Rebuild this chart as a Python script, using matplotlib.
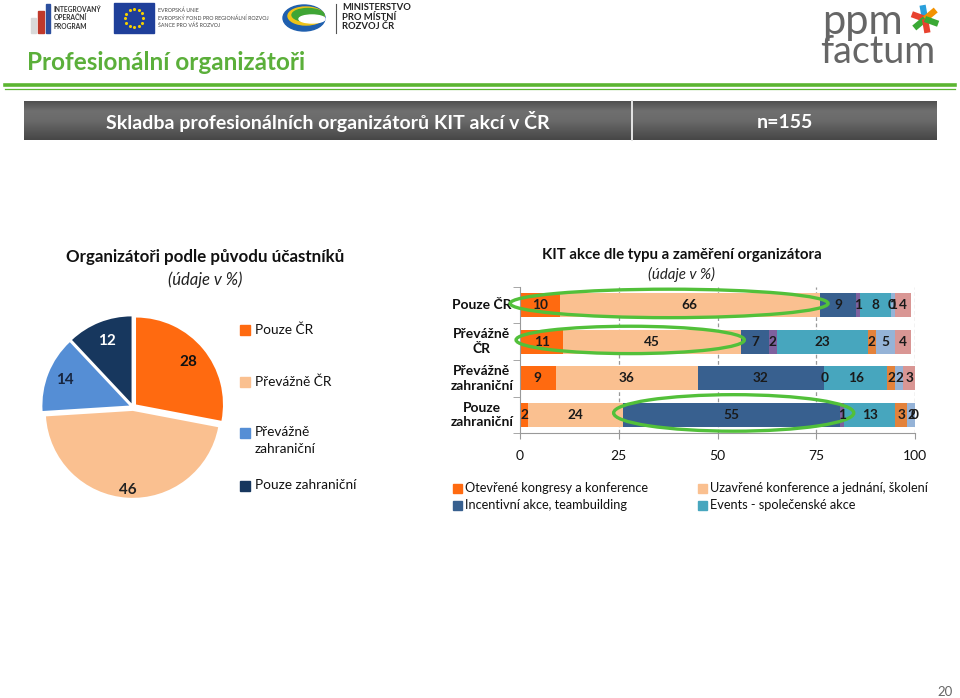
"""
Profesionální organizátoři - pie of organiser origin + stacked bars of KIT event types.
"""
import matplotlib
matplotlib.use('Agg')
import matplotlib.pyplot as plt
import matplotlib.transforms as mtransforms
import numpy as np
from matplotlib.patches import Rectangle, Ellipse
from matplotlib.colors import LinearSegmentedColormap

plt.rcParams['font.family'] = ['Lato', 'DejaVu Sans']

W, H = 960, 698

# --- data -------------------------------------------------------------
pie_labels = ['Pouze ČR', 'Převážně ČR', 'Převážně\nzahraniční', 'Pouze zahraniční']
pie_values = [28, 46, 14, 12]

bar_rows = ['Pouze ČR', 'Převážně\nČR', 'Převážně\nzahraniční', 'Pouze\nzahraniční']
event_types = ['Otevřené kongresy a konference',
               'Uzavřené konference a jednání, školení',
               'Incentivní akce, teambuilding',
               'Kategorie 4',
               'Events - společenské akce',
               'Kategorie 6',
               'Kategorie 7',
               'Kategorie 8']
# one list per row, values per event type (%)
row_pouze_cr = [10, 66, 9, 1, 8, 0, 1, 4]
row_prevazne_cr = [11, 45, 7, 2, 23, 2, 5, 4]
row_prevazne_zahr = [9, 36, 32, 0, 16, 2, 2, 3]
row_pouze_zahr = [2, 24, 55, 1, 13, 3, 2, 0]
x_ticks = [0, 25, 50, 75, 100]

pie_colors = ['#FF6A10', '#FAC090', '#558ED5', '#17375E']
bar_colors = ['#FF6A10', '#FAC090', '#38608F', '#7E619E',
              '#47A6BE', '#E3823B', '#95B3D7', '#D99694']


def px_rect(x0, y0, x1, y1):
    return [x0 / W, 1 - y1 / H, (x1 - x0) / W, (y1 - y0) / H]


fig = plt.figure(figsize=(W / 100, H / 100), dpi=100)
fig.patch.set_facecolor('white')

# overlay in pixel coordinates for the slide decoration
ov = fig.add_axes([0, 0, 1, 1])
ov.axis('off')

# logos (rough sketches)
ov.add_patch(Rectangle((31, 18), 5, 15, color='#d9d9d9'))
ov.add_patch(Rectangle((38, 11), 6, 22, color='#c0392b'))
ov.add_patch(Rectangle((46, 4), 4, 29, color='#2c4f9e'))
ov.text(54, 18, 'INTEGROVANÝ\nOPERAČNÍ\nPROGRAM', fontsize=4.8, fontweight='bold',
        va='center', ha='left', color='#333333', linespacing=1.3)
ov.add_patch(Rectangle((114, 3), 40, 30, color='#1f3f9a'))
ang = np.linspace(0, 2 * np.pi, 12, endpoint=False)
ov.scatter(134 + 9 * np.cos(ang), 18 + 9 * np.sin(ang), s=1.5, color='#f5d000', zorder=3)
ov.text(158, 18, 'EVROPSKÁ UNIE\nEVROPSKÝ FOND PRO REGIONÁLNÍ ROZVOJ\nŠANCE PRO VÁŠ ROZVOJ',
        fontsize=3.8, va='center', ha='left', color='#444444', linespacing=1.4)
ov.add_patch(Ellipse((304, 18), 42, 26, color='#1f5fae'))
ov.add_patch(Ellipse((306, 16), 36, 18, color='#f0c419'))
ov.add_patch(Ellipse((308, 15), 32, 13, color='#3fa535'))
ov.add_patch(Ellipse((312, 19), 26, 8, color='white'))
ov.plot([336, 336], [4, 33], color='#555555', lw=0.8)
ov.text(342, 17, 'MINISTERSTVO\nPRO MÍSTNÍ\nROZVOJ ČR', fontsize=6.8, fontweight='bold',
        va='center', ha='left', color='#222222', linespacing=1.1)

# ppm factum
ov.text(822, 22, 'ppm', fontsize=30, color='#666666', va='center', ha='left')
ov.text(820, 52, 'factum', fontsize=27, color='#666666', va='center', ha='left')
star_c = (925, 19)
for a, c in zip([100, 160, 40, 220, 280, 340], ['#2aa0dc', '#e8422f', '#f39200',
                                               '#3aa935', '#e8422f', '#3aa935']):
    r = np.deg2rad(a)
    ov.plot([star_c[0], star_c[0] + 14 * np.cos(r)], [star_c[1], star_c[1] - 14 * np.sin(r)],
            color=c, lw=4.5, solid_capstyle='butt')

# slide title and rules
ov.text(27, 62, 'Profesionální organizátoři', fontsize=17.5, fontweight='bold',
        color='#5BAF3A', va='center', ha='left')
ov.plot([5, 955], [84.5, 84.5], color='#5CB531', lw=2.6)
ov.plot([5, 955], [88.5, 88.5], color='#5CB531', lw=0.9)

grad = np.linspace(0, 1, 60).reshape(-1, 1)
ov.imshow(grad, extent=(24, 937, 140, 101),
          cmap=LinearSegmentedColormap.from_list(
              'g', ['#505050', '#6f6f6f', '#6a6a6a', '#585858', '#474747']),
          aspect='auto', zorder=1)
ov.plot([632, 632], [101, 140], color='#e6e6e6', lw=1.4, zorder=2)
ov.text(328, 122, 'Skladba profesionálních organizátorů KIT akcí v ČR', fontsize=14,
        fontweight='bold', color='white', ha='center', va='center', zorder=3)
ov.text(785, 122, 'n=155', fontsize=14, fontweight='bold', color='white',
        ha='center', va='center', zorder=3)

# chart titles
ov.text(205, 257, 'Organizátoři podle původu účastníků', fontsize=12.2, fontweight='bold',
        color='#111111', ha='center', va='center')
ov.text(205, 280, '(údaje v %)', fontsize=12, style='italic', color='#222222',
        ha='center', va='center')
ov.text(682, 255, 'KIT akce dle typu a zaměření organizátora', fontsize=10.8, fontweight='bold',
        color='#111111', ha='center', va='center')
ov.text(682, 274, '(údaje v %)', fontsize=10.8, style='italic', color='#222222',
        ha='center', va='center')

# --- pie ---------------------------------------------------------------
pax = fig.add_axes(px_rect(33, 307, 233, 507))
pax.pie(pie_values, colors=pie_colors, startangle=90, counterclock=False,
        explode=[0.045] * len(pie_values), radius=1)
pax.set_xlim(-1.15, 1.15)
pax.set_ylim(-1.15, 1.15)
pax.set_aspect('equal')
label_colors = ['#111111', '#222222', '#17253f', 'white']
label_r = [0.82, 0.96, 0.84, 0.82]
start = 90.0
for v, c, r in zip(pie_values, label_colors, label_r):
    span = 360.0 * v / sum(pie_values)
    mid = np.deg2rad(start - span / 2)
    pax.text(r * np.cos(mid), r * np.sin(mid), str(v), ha='center', va='center',
             fontsize=11, fontweight='bold', color=c)
    start -= span

# pie legend
leg_y = [330, 382, 433, 486]
for lab, col, y in zip(pie_labels, pie_colors, leg_y):
    ov.add_patch(Rectangle((240, y - 5), 10, 10, color=col))
    ov.text(255, y - 7, lab, fontsize=9.8, color='#111111', ha='left', va='top',
            linespacing=1.5)

# --- stacked bars ------------------------------------------------------
bax = fig.add_axes(px_rect(520, 287, 915, 433))
rows = np.array([row_pouze_cr, row_prevazne_cr, row_prevazne_zahr, row_pouze_zahr])
ypos = np.arange(len(bar_rows))
left = np.zeros(len(bar_rows))
for j, (name, col) in enumerate(zip(event_types, bar_colors)):
    vals = rows[:, j]
    bax.barh(ypos, vals, left=left, height=0.65, color=col, label=name, zorder=2)
    for y, v, l in zip(ypos, vals, left):
        bax.text(l + v / 2, y, f'{v:d}', ha='center', va='center', fontsize=9.8,
                 fontweight='bold', color='#1a1a1a', zorder=5)
    left += vals

# green highlight ellipses (row, first segment, last segment)
cum = np.hstack([np.zeros((rows.shape[0], 1)), np.cumsum(rows, axis=1)])
for r, s0, s1, pad_l, pad_r, h in [(0, 0, 1, 2.5, 2.0, 0.78),
                                   (1, 0, 1, 1.0, 0.8, 0.75),
                                   (3, 2, 2, 2.3, 3.5, 1.0)]:
    x0 = cum[r, s0] - pad_l
    x1 = cum[r, s1 + 1] + pad_r
    yc = ypos[r] - 0.05
    bax.add_patch(Ellipse(((x0 + x1) / 2, yc), x1 - x0, h, fill=False,
                          edgecolor='#52C03A', lw=2.4, zorder=4, clip_on=False))

bax.set_xlim(0, 100)
bax.set_ylim(len(bar_rows) - 0.5, -0.5)
bax.set_xticks(x_ticks)
bax.set_xticklabels([str(t) for t in x_ticks], fontsize=10, color='#111111')
bax.set_yticks(ypos)
bax.set_yticklabels([])
bax.tick_params(axis='y', length=0)
lab_tr = mtransforms.blended_transform_factory(bax.transAxes, bax.transData)
for y, lab in zip(ypos, bar_rows):
    bax.text(-0.097, y, lab, transform=lab_tr, ha='center', va='center',
             fontsize=10, fontweight='bold', color='#111111', linespacing=1.25)
bax.set_yticks(np.arange(-0.5, len(bar_rows)), minor=True)
bax.tick_params(axis='y', which='minor', length=5, color='#999999')
bax.tick_params(axis='x', length=4, color='#999999', pad=8)
for x in x_ticks[1:]:
    bax.axvline(x, color='#999999', ls=(0, (3, 2)), lw=0.9, zorder=1)
for s in ['top', 'right']:
    bax.spines[s].set_visible(False)
for s in ['left', 'bottom']:
    bax.spines[s].set_color('#999999')
bax.set_facecolor('none')

# bar legend (only the first four types are listed)
leg_pos = [(453, 488), (698, 488), (453, 505), (698, 505)]
for j, (x, y) in zip([0, 1, 2, 4], leg_pos):
    ov.add_patch(Rectangle((x, y - 4.5), 9, 9, color=bar_colors[j]))
    ov.text(x + 12, y, event_types[j], fontsize=9.2, color='#111111', ha='left', va='center')

ov.text(945, 692, '20', fontsize=9.5, color='#666666', ha='center', va='center')

# imshow/patches change limits, so fix the pixel frame last
ov.set_xlim(0, W)
ov.set_ylim(H, 0)
ov.set_aspect('auto')

fig.savefig('out.png', dpi=100)
